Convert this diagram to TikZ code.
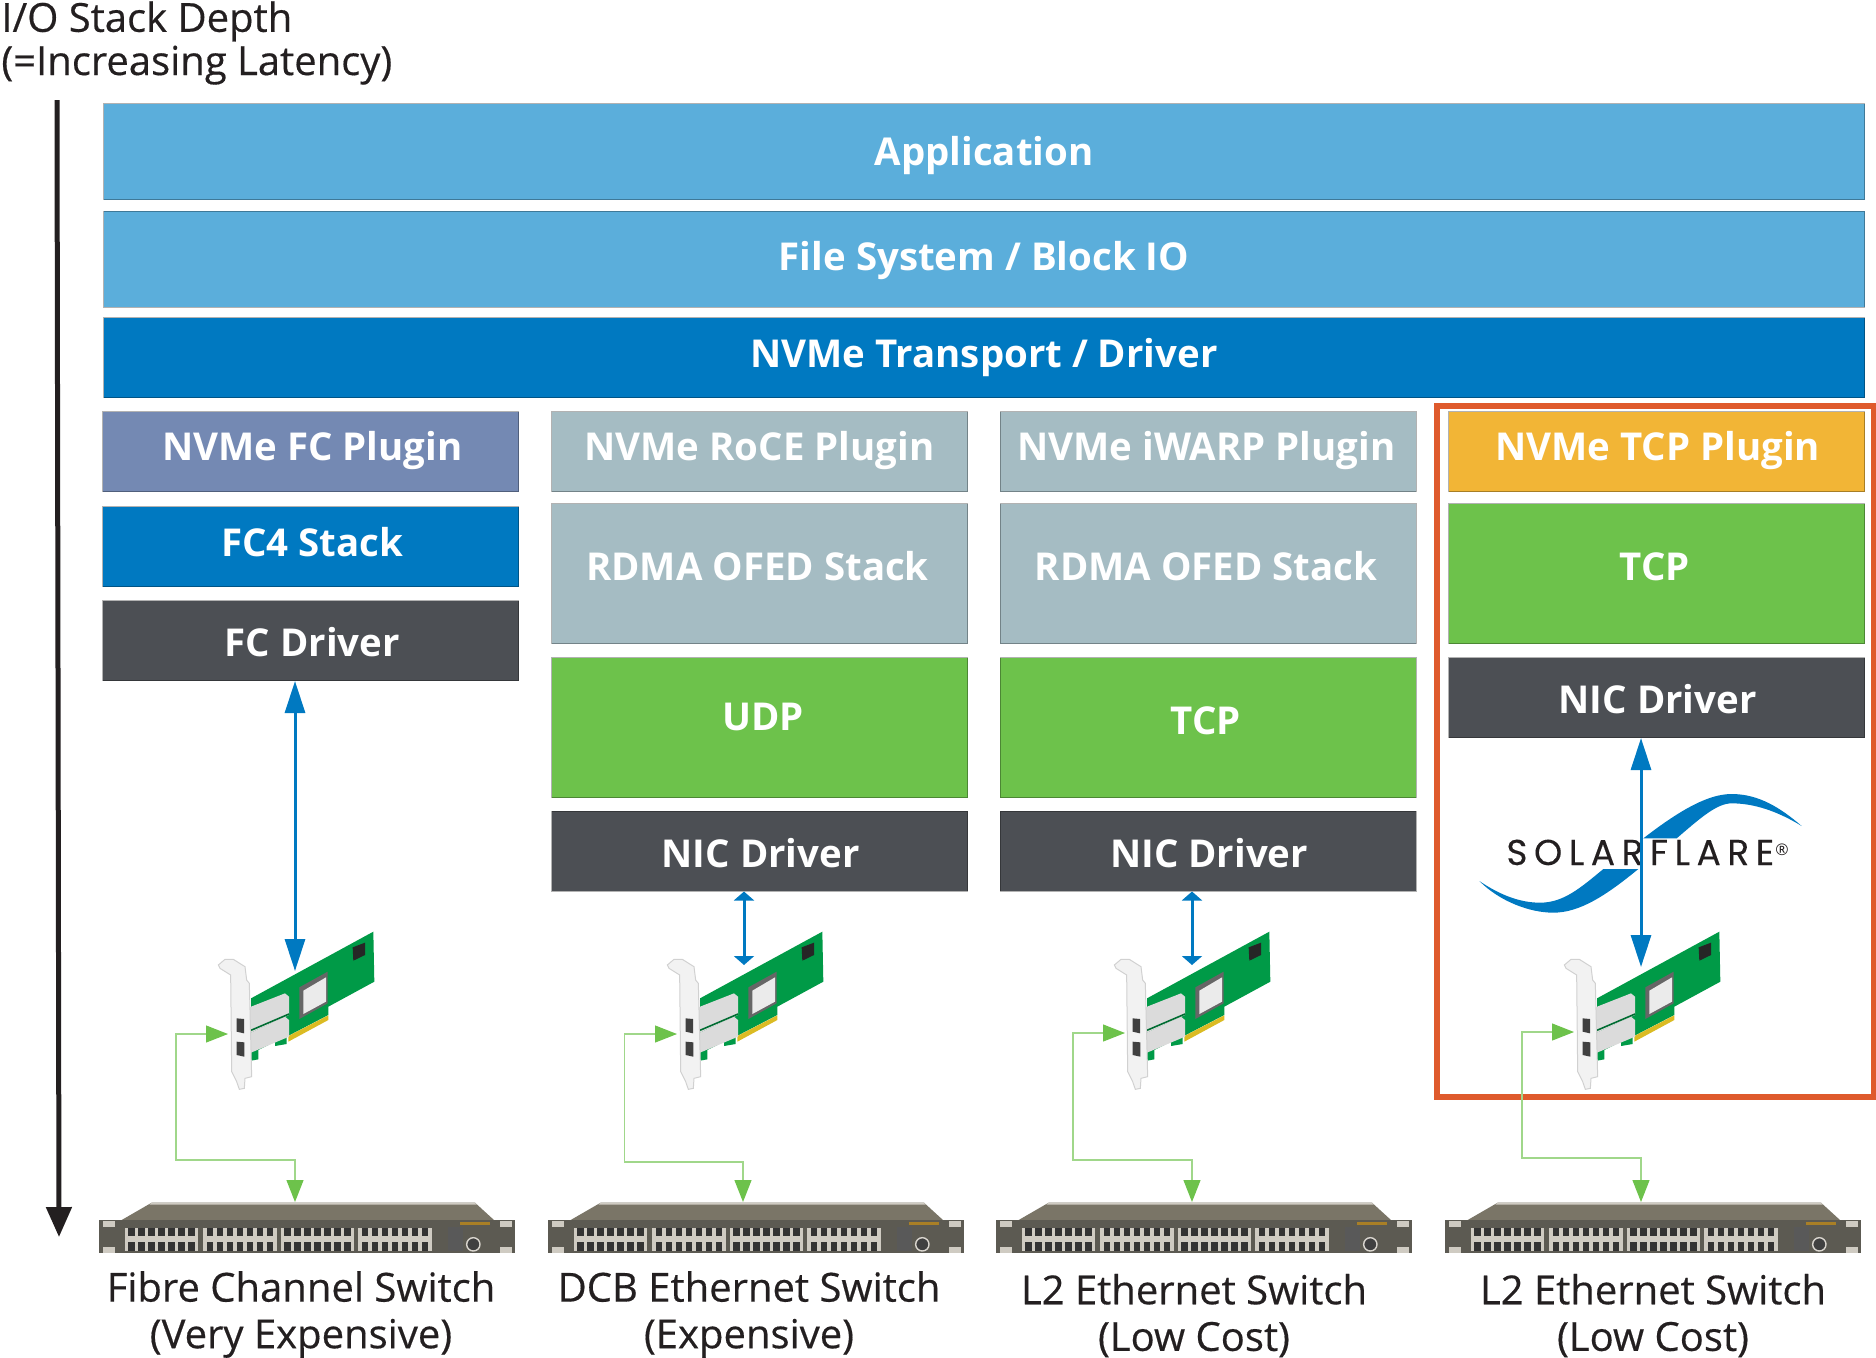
\documentclass[tikz,border=0pt]{standalone}
\usepackage{fontspec}
\setmainfont{Open Sans}
\newfontfamily\semifont[FakeBold=0.4]{Open Sans}
\newfontfamily\logofont[LetterSpace=18,FakeBold=0.15]{Poppins}
\usetikzlibrary{arrows.meta}
\definecolor{skybar}{HTML}{5BAEDB}
\definecolor{deepblue}{HTML}{0079C1}
\definecolor{slatebar}{HTML}{7489B3}
\definecolor{paleteal}{HTML}{A5BCC3}
\definecolor{amberbar}{HTML}{F2B536}
\definecolor{leafbar}{HTML}{6DC24B}
\definecolor{darkbar}{HTML}{4C4F54}
\definecolor{redframe}{HTML}{DF5A2C}
\definecolor{cardgreen}{HTML}{009A47}
\definecolor{inkblack}{HTML}{231F20}
\definecolor{switchtop}{HTML}{7A7567}
\definecolor{switchface}{HTML}{5C5A52}
\definecolor{switchgrid}{HTML}{CFCBC2}
\tikzset{
  stackbox/.style={inner sep=0pt, text=white, draw=black, draw opacity=0.3, line width=0.5pt, font=\fontsize{19.2}{23}\selectfont\bfseries, text height=14pt, text depth=0pt},
  caption/.style={align=center, text=inkblack, inner sep=0pt, font=\fontsize{20}{23.3}\semifont},
  hostlink/.style={draw=deepblue, line width=1.5pt, {Triangle[width=10pt,length=16pt]}-{Triangle[width=10pt,length=16pt]}},
  shortlink/.style={draw=deepblue, line width=1.5pt, {Triangle[width=10pt,length=4.5pt]}-{Triangle[width=10pt,length=4.5pt]}},
  portlink/.style={draw=leafbar!65, line width=0.6pt, {Triangle[width=8.5pt,length=11pt,color=leafbar]}-{Triangle[width=8.5pt,length=11pt,color=leafbar]}},
  nicpic/.pic={
    \begin{scope}[scale=1/3]
    \fill[cardgreen] (183,295) -- (550,95) -- (553,245) -- (415,320) -- (415,345) -- (290,410) -- (290,432) -- (255,438) -- (255,425) -- (205,450) -- (205,478) -- (183,482) -- cycle;
    \fill[black!85] (488,142) -- (525,128) -- (525,165) -- (490,182) -- cycle;
    \fill[black!60] (328,262) -- (413,215) -- (413,310) -- (328,357) -- cycle;
    \fill[black!8] (340,272) -- (408,232) -- (408,305) -- (340,342) -- cycle;
    \fill[yellow!70!orange!85!black] (295,408) -- (415,346) -- (415,360) -- (295,425) -- cycle;
    \fill[black!14] (178,322) -- (285,280) -- (297,290) -- (297,345) -- (178,400) -- cycle;
    \fill[black!14] (178,400) -- (285,350) -- (297,360) -- (297,410) -- (178,460) -- cycle;
    \draw[cardgreen!70!black, line width=0.8pt] (178,393) -- (297,342);
    \filldraw[fill=black!5, draw=black!18, line width=0.5pt] (85,195) -- (105,178) -- (130,178) -- (165,200) -- (170,240) -- (178,250) -- (185,530) -- (165,535) -- (163,565) -- (148,568) -- (140,545) -- (125,515) -- (122,225) -- (90,205) -- cycle;
    \fill[black!75] (140,355) -- (162,357) -- (162,400) -- (140,395) -- cycle;
    \fill[black!75] (140,425) -- (163,427) -- (163,470) -- (140,465) -- cycle;
    \end{scope}
  },
  switchpic/.pic={
    \begin{scope}[scale=1/3]
    \fill[switchtop] (95,120) -- (185,68) -- (1155,68) -- (1212,120) -- cycle;
    \fill[switchgrid] (185,68) -- (1155,68) -- (1160,74) -- (178,74) -- cycle;
    \fill[switchface] (28,120) rectangle (1275,220);
    \fill[switchgrid] (38,122) rectangle (75,142);
    \fill[switchgrid] (38,202) rectangle (75,220);
    \fill[switchgrid] (1230,122) rectangle (1265,142);
    \fill[switchgrid] (1230,202) rectangle (1265,220);
    \foreach \groupx in {105,340,572,805} {
      \fill[black!80] (\groupx,145) rectangle +(220,67);
      \fill[switchgrid] (\groupx,168) rectangle +(220,18);
      \foreach \slot in {0,...,7} {
        \fill[switchgrid] (\groupx+\slot*30,145) rectangle +(10,67);
      }
    }
    \fill[black!65] (1075,142) rectangle (1118,212);
    \filldraw[fill=black!75, draw=switchgrid!80, line width=0.7pt] (1150,193) circle (20);
    \fill[amberbar!70!black] (1110,126) rectangle (1200,134);
    \end{scope}
  }
}
\begin{document}
\begin{tikzpicture}[x=0.5pt,y=-0.5pt]
\useasboundingbox (0,0) rectangle (1876,1357);

\node [caption, align=left, anchor=base west, font=\fontsize{20}{21.6}\semifont] (depthnote) at (1,75) {I/O Stack Depth\\(=Increasing Latency)};
\coordinate (depthtop) at (57,100);
\coordinate (depthtip) at (59,1237);
\draw[line width=2.5pt, inkblack, -{Triangle[width=12.5pt,length=15pt]}] (depthtop) -- (depthtip);

\node [stackbox, fill=skybar, minimum width=880.5pt, minimum height=48pt] (appbar) at (984,151.5) {Application};
\node [stackbox, fill=skybar, minimum width=880.5pt, minimum height=48pt, text depth=2.4pt] (fsbar) at (984,259) {File System / Block IO};
\node [stackbox, fill=deepblue, minimum width=880.5pt, minimum height=40pt, text depth=3.6pt] (transportbar) at (984,357.5) {NVMe Transport / Driver};

% fibre channel column
\node [stackbox, fill=slatebar, minimum width=208pt, minimum height=40pt, text depth=4.8pt] (fcplugin) at (310.5,451.5) {\hspace*{1.8pt}NVMe FC Plugin};
\node [stackbox, fill=deepblue, minimum width=208pt, minimum height=40pt, text depth=3.6pt] (fcstack) at (310.5,546.5) {\hspace*{1.8pt}FC4 Stack};
\node [stackbox, fill=darkbar, minimum width=208pt, minimum height=40pt, text height=16.4pt] (fcdriver) at (310.5,640.5) {\hspace*{1.8pt}FC Driver};

% roce column
\node [stackbox, fill=paleteal, minimum width=208pt, minimum height=40pt, text depth=4.8pt] (roceplugin) at (759.5,451.5) {NVMe RoCE Plugin};
\node [stackbox, fill=paleteal, minimum width=208pt, minimum height=70pt, text depth=7.2pt] (rocestack) at (759.5,573.5) {RDMA OFED Stack\hspace*{2pt}};
\node [stackbox, fill=leafbar, minimum width=208pt, minimum height=70pt, text depth=10.8pt] (udpbox) at (759.5,727.5) {\hspace*{3.5pt}UDP};
\node [stackbox, fill=darkbar, minimum width=208pt, minimum height=40pt, text height=16.4pt] (rocedriver) at (759.5,851) {\hspace*{1.2pt}NIC Driver};

% iwarp column
\node [stackbox, fill=paleteal, minimum width=208pt, minimum height=40pt, text depth=4.8pt] (iwarpplugin) at (1208,451.5) {NVMe iWARP Plugin\hspace*{1.5pt}};
\node [stackbox, fill=paleteal, minimum width=208pt, minimum height=70pt, text depth=7.2pt] (iwarpstack) at (1208,573.5) {RDMA OFED Stack\hspace*{2pt}};
\node [stackbox, fill=leafbar, minimum width=208pt, minimum height=70pt, text depth=7.2pt] (iwarptcp) at (1208,727.5) {TCP\hspace*{2.4pt}};
\node [stackbox, fill=darkbar, minimum width=208pt, minimum height=40pt, text height=16.4pt] (iwarpdriver) at (1208,851) {\hspace*{1.2pt}NIC Driver};

% tcp column
\draw[redframe, line width=3pt] (1437,406) rectangle (1873.5,1097);
\node [stackbox, fill=amberbar, minimum width=208pt, minimum height=40pt, text depth=4.8pt] (tcpplugin) at (1656.5,451.5) {\hspace*{1.2pt}NVMe TCP Plugin};
\node [stackbox, fill=leafbar, minimum width=208pt, minimum height=70pt, text depth=7.2pt] (tcpbox) at (1656.5,573.5) {TCP\hspace*{1.5pt}};
\node [stackbox, fill=darkbar, minimum width=208pt, minimum height=40pt, text height=16.4pt] (tcpdriver) at (1656.5,697.5) {\hspace*{1.2pt}NIC Driver};

% logo
\fill[deepblue] (1430+640/3,720+355/3) .. controls (1430+760/3,720+262/3) and (1430+840/3,720+222/3) .. (1430+905/3,720+222/3) .. controls (1430+985/3,720+222/3) and (1430+1050/3,720+262/3) .. (1430+1115/3,720+318/3) .. controls (1430+1040/3,720+272/3) and (1430+970/3,720+250/3) .. (1430+905/3,720+250/3) .. controls (1430+860/3,720+250/3) and (1430+810/3,720+295/3) .. (1430+740/3,720+355/3) -- cycle;
\fill[deepblue] (1430+148/3,720+483/3) .. controls (1430+210/3,720+545/3) and (1430+300/3,720+578/3) .. (1430+370/3,720+578/3) .. controls (1430+450/3,720+578/3) and (1430+530/3,720+525/3) .. (1430+625/3,720+447/3) -- (1430+520/3,720+447/3) .. controls (1430+450/3,720+505/3) and (1430+400/3,720+548/3) .. (1430+330/3,720+548/3) .. controls (1430+270/3,720+548/3) and (1430+210/3,720+525/3) .. (1430+148/3,720+483/3) -- cycle;
\node [inner sep=0pt, anchor=base west, text=inkblack, font=\fontsize{18}{18}\logofont] (logotext) at (1506,865) {SOLARFLARE};
\node [inner sep=0pt, anchor=base west, text=inkblack, font=\fontsize{8}{8}\selectfont] (logomark) at (1775,855) {®};

% adapters
\pic at (190,900) {nicpic};
\pic at (639,900) {nicpic};
\pic at (1086,900) {nicpic};
\pic at (1536,900) {nicpic};

% switches
\pic at (90,1180) {switchpic};
\pic at (539,1180) {switchpic};
\pic at (987,1180) {switchpic};
\pic at (1436,1180) {switchpic};

\coordinate (nictopA) at (295,971);
\coordinate (nictopB) at (744,965);
\coordinate (nictopC) at (1192,965);
\coordinate (nictopD) at (1641,967);
\draw[hostlink] (fcdriver.south -| nictopA) -- (nictopA);
\draw[shortlink] (rocedriver.south -| nictopB) -- (nictopB);
\draw[shortlink] (iwarpdriver.south -| nictopC) -- (nictopC);
\draw[hostlink] (tcpdriver.south -| nictopD) -- (nictopD);

\coordinate (portA) at (228,1034);
\coordinate (portB) at (677,1034);
\coordinate (portC) at (1125,1033);
\coordinate (portD) at (1574,1032);
\coordinate (bendA) at (176,1160);
\coordinate (bendB) at (624.5,1162);
\coordinate (bendC) at (1073,1160);
\coordinate (bendD) at (1522,1158);
\coordinate (swtopA) at (295,1202);
\coordinate (swtopB) at (743,1202);
\coordinate (swtopC) at (1192,1202);
\coordinate (swtopD) at (1641,1202);
\draw[portlink] (portA) -| (bendA) -| (swtopA);
\draw[portlink] (portB) -| (bendB) -| (swtopB);
\draw[portlink] (portC) -| (bendC) -| (swtopC);
\draw[portlink] (portD) -| (bendD) -| (swtopD);

\node [caption] (fclabel) at (301,1314.5) {Fibre Channel Switch\\(Very Expensive)};
\node [caption] (dcblabel) at (749,1314.5) {DCB Ethernet Switch\\(Expensive)};
\node [caption] (l2labelA) at (1194,1315.5) {L2 Ethernet Switch\\(Low Cost)};
\node [caption] (l2labelB) at (1653,1315.5) {L2 Ethernet Switch\\(Low Cost)};

\end{tikzpicture}
\end{document}
